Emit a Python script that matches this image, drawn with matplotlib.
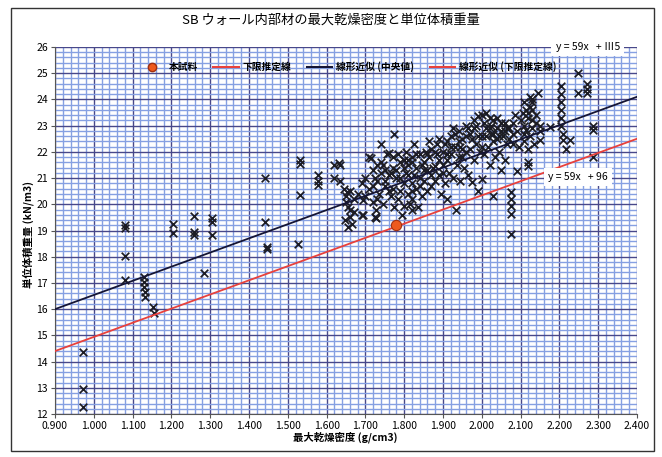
import matplotlib
matplotlib.use("Agg")
import matplotlib.pyplot as plt
from matplotlib.patches import Rectangle
from matplotlib.lines import Line2D
import numpy as np

plt.rcParams['font.family'] = ['Noto Sans CJK JP', 'DejaVu Sans']

title = "SB ウォール内部材の最大乾燥密度と単位体積重量"
xlabel = "最大乾燥密度 (g/cm3)"
ylabel = "単位体積重量 (kN/m3)"
legend_labels = ["本試料", "下限推定線", "線形近似 (中央値)", "線形近似 (下限推定線)"]
eq_top = "y = 59x   + Ⅲ5"
eq_low = "y = 59x   + 96"

# scatter data (max dry density, unit weight)
x_left = [0.973, 0.973, 0.973, 1.08, 1.08, 1.08, 1.08, 1.129, 1.129, 1.13, 1.131, 1.132,
          1.153, 1.155, 1.205, 1.205, 1.257, 1.257, 1.257, 1.285, 1.304, 1.304, 1.304,
          1.441, 1.441, 1.446, 1.446, 1.527, 1.531, 1.531, 1.531, 1.579, 1.579, 1.579,
          1.62, 1.62, 1.632, 1.635, 1.635]
y_left = [14.37, 12.97, 12.27, 19.2, 19.1, 18.02, 17.13, 17.23, 17.04, 16.85, 16.66, 16.47,
          16.09, 15.86, 19.24, 18.89, 19.55, 18.95, 18.82, 17.39, 19.46, 19.33, 18.82,
          20.99, 19.33, 18.3, 18.38, 18.48, 21.69, 21.55, 20.35, 21.1, 20.9, 20.75,
          21.5, 21.0, 21.59, 21.5, 20.9]

x_mid = [1.645, 1.647, 1.65, 1.65, 1.652, 1.655, 1.656, 1.66, 1.66, 1.66, 1.665, 1.67, 1.67,
         1.68, 1.69, 1.69, 1.694, 1.694, 1.70, 1.70,
         1.71, 1.71, 1.715, 1.72, 1.72, 1.725, 1.727, 1.727, 1.73, 1.73, 1.735, 1.74, 1.74,
         1.745, 1.75, 1.75, 1.755, 1.76, 1.76, 1.765, 1.77, 1.77, 1.775, 1.775, 1.78,
         1.785, 1.79, 1.79, 1.795, 1.80, 1.80, 1.80]
y_mid = [20.6, 19.4, 20.3, 20.1, 20.48, 19.9, 19.14, 20.5, 19.8, 19.5, 19.25, 20.2, 19.7,
         20.4, 19.6, 20.8, 20.16, 19.59, 21.0, 20.3,
         21.8, 20.6, 21.75, 21.3, 20.1, 19.5, 19.78, 19.46, 21.5, 20.9, 20.4, 22.3, 21.2,
         20.0, 21.3, 20.7, 21.9, 21.97, 21.1, 20.3, 21.4, 20.6, 19.9, 22.7, 21.0,
         20.2, 21.6, 20.5, 19.6, 21.7, 20.8, 19.95]

x_core = [1.805, 1.81, 1.81, 1.81, 1.815, 1.82, 1.82, 1.82, 1.82, 1.82, 1.825, 1.83, 1.83,
          1.835, 1.84, 1.84, 1.845, 1.85, 1.85, 1.855, 1.86, 1.86, 1.865, 1.87, 1.87,
          1.875, 1.88, 1.88, 1.885, 1.89, 1.89, 1.895, 1.90, 1.90,
          1.905, 1.91, 1.91, 1.91, 1.915, 1.92, 1.92, 1.925, 1.93, 1.934, 1.935, 1.94, 1.94,
          1.945, 1.95, 1.95, 1.955, 1.96, 1.96, 1.965, 1.97, 1.975, 1.976, 1.98, 1.98,
          1.985, 1.99, 1.99, 1.995, 2.00, 2.00, 2.00]
y_core = [21.2, 21.7, 21.5, 20.4, 20.0, 21.8, 20.8, 20.5, 20.2, 19.8, 21.1, 21.4, 20.6,
          19.9, 21.9, 21.0, 20.3, 21.6, 20.9, 22.0, 21.3, 20.5, 21.8, 20.7, 22.1,
          21.4, 21.46, 20.9, 22.3, 21.7, 21.1, 20.4, 22.0, 21.5,
          20.8, 21.7, 22.4, 20.2, 21.2, 22.6, 21.9, 21.0, 22.2, 19.8, 21.5, 22.8, 21.8,
          20.9, 22.1, 22.5, 21.4, 23.0, 22.0, 21.1, 22.7, 22.5, 20.84, 23.2, 21.7,
          22.3, 23.35, 20.5, 22.0, 23.4, 20.95, 22.6]

x_dense = [1.72, 1.73, 1.74, 1.75, 1.76, 1.77, 1.78, 1.79, 1.80, 1.81, 1.82, 1.83, 1.84,
           1.85, 1.86, 1.87, 1.88, 1.89, 1.90, 1.91, 1.92, 1.93, 1.94, 1.95, 1.96, 1.97,
           1.98, 1.99, 2.00, 2.01, 2.02, 2.03, 2.04, 2.05, 2.06, 2.07, 2.08, 2.09, 2.10,
           2.11, 2.12, 2.13, 2.14, 2.15,
           1.725, 1.745, 1.765, 1.785, 1.805, 1.825, 1.845, 1.865, 1.885, 1.905, 1.925,
           1.945, 1.965, 1.985, 2.005, 2.025, 2.045, 2.065, 2.085, 2.105, 2.125]
y_dense = [20.7, 20.2, 21.6, 20.9, 20.5, 21.8, 21.3, 21.0, 21.4, 21.1, 21.6, 21.9, 20.7,
           21.3, 21.9, 21.1, 22.0, 22.5, 21.2, 21.9, 22.2, 22.7, 22.4, 21.8, 22.6, 22.1,
           22.9, 22.6, 22.2, 22.6, 22.9, 22.7, 22.5, 22.8, 23.1, 22.9, 22.3, 22.8, 23.2,
           22.7, 23.5, 24.0, 23.1, 22.8,
           21.0, 21.5, 21.2, 21.9, 22.0, 22.3, 21.5, 22.4, 21.9, 22.3, 22.9,
           22.2, 22.9, 23.0, 23.1, 23.0, 22.6, 22.9, 23.4, 23.5, 24.1]

x_right = [2.005, 2.01, 2.01, 2.015, 2.02, 2.02, 2.025, 2.028, 2.03, 2.03, 2.035, 2.04, 2.04,
           2.045, 2.05, 2.05, 2.055, 2.06, 2.06, 2.065, 2.07, 2.08, 2.08, 2.076, 2.076,
           2.076, 2.076, 2.076, 2.09, 2.095,
           2.11, 2.11, 2.11, 2.115, 2.115, 2.12, 2.12, 2.118, 2.12, 2.125, 2.125, 2.13, 2.13,
           2.13, 2.13, 2.135, 2.14, 2.145, 2.149, 2.15, 2.176,
           2.205, 2.205, 2.205, 2.205, 2.205, 2.205, 2.21, 2.21, 2.218, 2.227, 2.248, 2.248,
           2.27, 2.27, 2.27, 2.287, 2.287, 2.287]
y_right = [21.9, 23.5, 22.9, 22.2, 23.3, 21.5, 22.7, 20.3, 23.2, 22.4, 21.8, 23.3, 22.9,
           22.0, 23.1, 21.3, 22.6, 22.8, 21.7, 22.3, 22.5, 23.1, 22.7, 20.45, 20.2,
           19.93, 19.63, 18.87, 21.26, 22.2,
           23.9, 23.0, 22.4, 22.85, 23.6, 23.3, 22.1, 21.6, 21.45, 23.7, 22.6, 23.9, 23.6,
           23.2, 22.9, 22.3, 23.4, 24.24, 22.47, 23.0, 22.95,
           24.5, 24.2, 23.9, 23.6, 23.3, 23.0, 22.7, 22.45, 22.1, 22.47, 25.0, 24.25,
           24.6, 24.4, 24.25, 22.98, 22.85, 21.8]

sample_x = [1.78]
sample_y = [19.2]

line_x = [0.9, 2.4]
median_y = [16.0, 24.1]
lower_y = [14.4, 22.5]

x_ticks = [0.9 + 0.1 * i for i in range(16)]
y_ticks = list(range(12, 27))

fig = plt.figure(figsize=(6.62, 4.57), dpi=100)
W, H = 662, 457
ax = fig.add_axes([55 / W, 1 - 414 / H, (637 - 55) / W, (414 - 47) / H])

ax.set_xlim(0.9, 2.4)
ax.set_ylim(12, 26)
ax.set_xticks(x_ticks)
ax.set_xticklabels([f"{v:.3f}" for v in x_ticks], fontsize=7.5)
ax.set_yticks(y_ticks)
ax.set_yticklabels([str(v) for v in y_ticks], fontsize=7.5)
ax.set_xticks(np.arange(0.9, 2.4001, 0.02), minor=True)
ax.set_yticks(np.arange(12, 26.001, 0.2), minor=True)
ax.tick_params(which='minor', length=0)
ax.tick_params(which='major', length=3, width=0.8, pad=2, color='#555555')
ax.grid(which='minor', color='#86a0e2', lw=1.0, zorder=0)
ax.grid(which='major', color='#48488a', lw=1.0, zorder=0)
ax.set_axisbelow(True)
for s in ax.spines.values():
    s.set_visible(False)
ax.spines['left'].set_visible(True)
ax.spines['left'].set_color('#555555')
ax.spines['bottom'].set_visible(True)
ax.spines['bottom'].set_color('#555555')

xs = x_left + x_mid + x_core + x_dense + x_right
ys = y_left + y_mid + y_core + y_dense + y_right
ax.scatter(xs, ys, marker='x', s=30, linewidths=1.25, color='#1c1c24', zorder=3)

ax.plot(line_x, median_y, color='#151535', lw=1.3, zorder=4)
ax.plot(line_x, lower_y, color='#e8413c', lw=1.3, zorder=4)
ax.scatter(sample_x, sample_y, s=55, color='#ee5a1e', edgecolors='#a03010', linewidths=0.8, zorder=5)

handles = [Line2D([], [], marker='o', ls='none', color='#ee5a1e', markeredgecolor='#a03010', markersize=6),
           Line2D([], [], color='#e8413c', lw=1.5),
           Line2D([], [], color='#151535', lw=1.5),
           Line2D([], [], color='#e8413c', lw=1.5)]
leg = ax.legend(handles, legend_labels, loc='upper left', bbox_to_anchor=(0.13, 0.985),
                ncol=4, frameon=False, handlelength=2.6, columnspacing=1.6,
                handletextpad=0.4, prop={'weight': 'bold', 'size': 7})
leg.set_zorder(6)

ax.text(2.19, 26.0, eq_top, fontsize=7.5, va='center', ha='left', zorder=7,
        bbox=dict(facecolor='white', edgecolor='none', pad=3))
ax.text(2.17, 21.04, eq_low, fontsize=7.5, va='center', ha='left', zorder=7,
        bbox=dict(facecolor='white', edgecolor='none', pad=3))

fig.text(0.5, 1 - 20 / H, title, ha='center', va='center', fontsize=9.5)
fig.text(345 / W, 1 - 437 / H, xlabel, ha='center', va='center', fontsize=7.5, weight='bold')
fig.text(28 / W, 1 - 235 / H, ylabel, ha='center', va='center', fontsize=7.5, weight='bold', rotation=90)

fig.patches.append(Rectangle((11 / W, 1 - 451 / H), (654 - 11) / W, (451 - 8) / H,
                             transform=fig.transFigure, fill=False, edgecolor='#333333', lw=1.0))

fig.savefig("out.png", dpi=100)
